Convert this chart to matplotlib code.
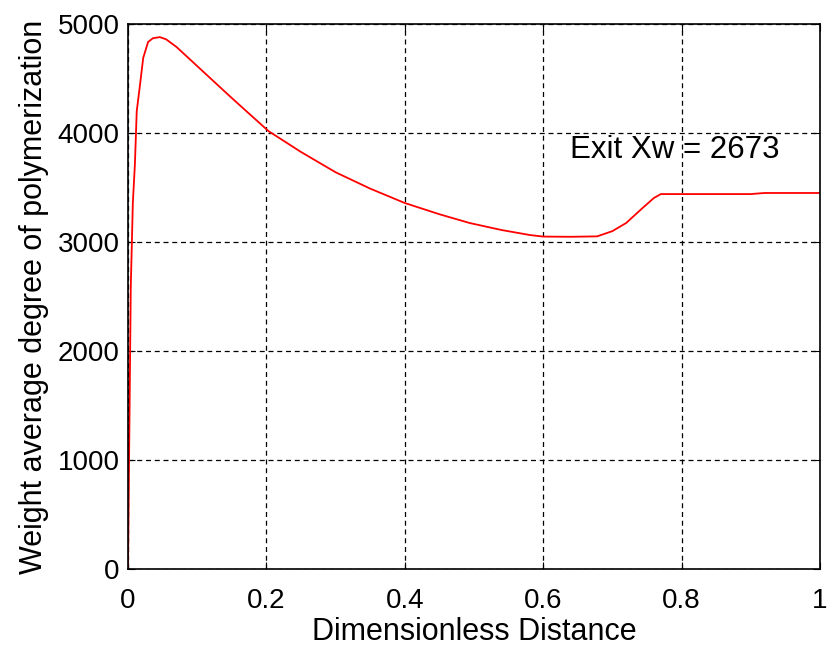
import matplotlib
matplotlib.use("Agg")
import matplotlib.pyplot as plt

distance = [0.0, 0.0015, 0.002, 0.004, 0.007, 0.010, 0.0126, 0.0173, 0.022, 0.029, 0.036,
            0.046, 0.055, 0.070, 0.099, 0.145, 0.172, 0.203, 0.249, 0.30,
            0.35, 0.40, 0.45, 0.494, 0.54, 0.581, 0.60, 0.64, 0.678, 0.70, 0.72,
            0.745, 0.76, 0.77, 0.8, 0.9, 0.92, 1.0]
xw = [0, 1000, 1300, 2590, 3360, 3720, 4200, 4440, 4690, 4835, 4870,
      4880, 4860, 4790, 4620, 4350, 4195, 4018, 3830, 3640,
      3490, 3358, 3255, 3174, 3110, 3064, 3050, 3048, 3052, 3100, 3175,
      3320, 3404, 3440, 3440, 3440, 3450, 3450]

xticks = [0, 0.2, 0.4, 0.6, 0.8, 1]
xticklabels = ["0", "0.2", "0.4", "0.6", "0.8", "1"]
yticks = [0, 1000, 2000, 3000, 4000, 5000]
yticklabels = ["0", "1000", "2000", "3000", "4000", "5000"]

plt.rcParams['font.family'] = ['Liberation Sans', 'DejaVu Sans']

fig = plt.figure(figsize=(8.28, 6.53), dpi=100)
ax = fig.add_axes([0.1546, 0.1286, 0.9903 - 0.1546, 0.9632 - 0.1286])
ax.plot(distance, xw, color='red', lw=1.3)
ax.set_xlim(0, 1)
ax.set_ylim(0, 5000)
ax.set_xticks(xticks)
ax.set_xticklabels(xticklabels)
ax.set_yticks(yticks)
ax.set_yticklabels(yticklabels)
ax.tick_params(direction='in', length=5, labelsize=20, top=True, right=True)
ax.tick_params(axis='x', pad=14)
ax.tick_params(axis='y', pad=6)
ax.grid(True, color='black', linestyle=(0, (4, 3)), linewidth=0.9)
for s in ax.spines.values():
    s.set_linewidth(1.2)
ax.set_xlabel("Dimensionless Distance", fontsize=22, labelpad=2)
ax.set_ylabel("Weight average degree of polymerization", fontsize=22, labelpad=6)
ax.text(0.639, 3844, "Exit Xw = 2673", fontsize=22.5, va='center', ha='left')
fig.savefig("out.png", dpi=100)
